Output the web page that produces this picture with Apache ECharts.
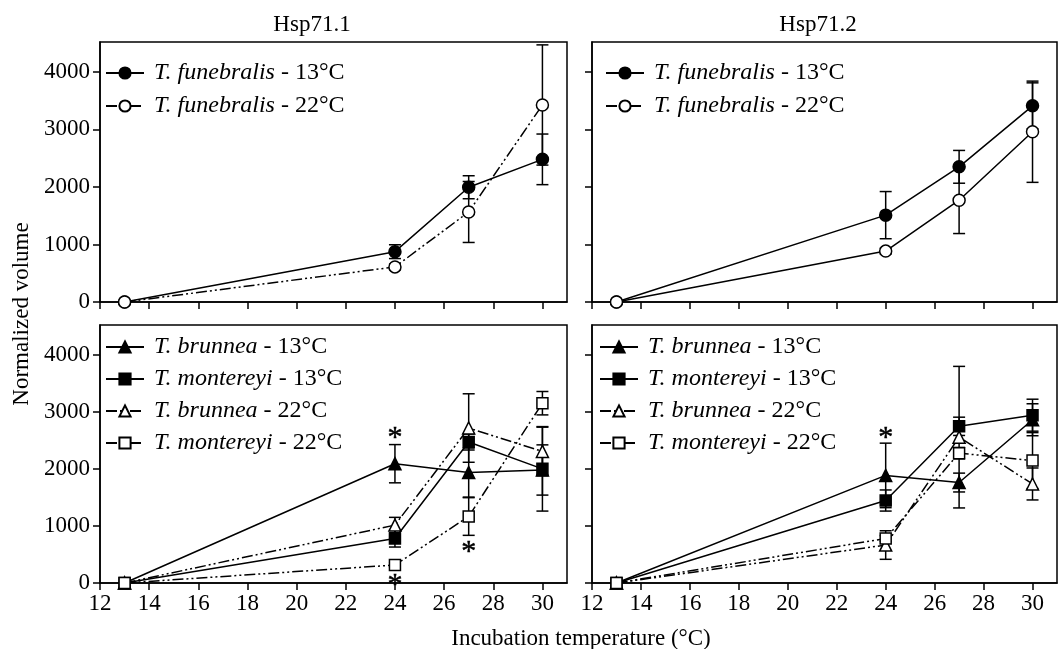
<!DOCTYPE html>
<html>
<head>
<meta charset="utf-8">
<script src="https://cdn.jsdelivr.net/npm/echarts@6/dist/echarts.min.js"></script>
<style>
  html, body { margin: 0; padding: 0; background: #fff; }
  #chart { width: 1061px; height: 649px; }
</style>
</head>
<body>
<div id="chart"></div>
<script>
// incubation temperatures (x)
var temps = [13, 24, 27, 30];
var xTicks = [12, 14, 16, 18, 20, 22, 24, 26, 28, 30];
var yTicks = [0, 1000, 2000, 3000, 4000];

// Hsp71.1, T. funebralis
var fun13H1 = [0, 875, 1995, 2480];
var fun13H1Err = [0, 120, 200, 440];
var fun22H1 = [0, 610, 1565, 3425];
var fun22H1Err = [0, 50, 530, 1045];

// Hsp71.2, T. funebralis
var fun13H2 = [0, 1510, 2350, 3410];
var fun13H2Err = [0, 410, 285, 400];
var fun22H2 = [0, 885, 1770, 2960];
var fun22H2Err = [0, 50, 580, 880];

// Hsp71.1, T. brunnea / T. montereyi
var bru13H1 = [0, 2090, 1935, 1980];
var bru13H1Err = [0, 335, 430, 440];
var mon13H1 = [0, 780, 2470, 2000];
var mon13H1Err = [0, 150, 140, 740];
var bru22H1 = [0, 1015, 2715, 2305];
var bru22H1Err = [0, 135, 600, 425];
var mon22H1 = [0, 315, 1165, 3150];
var mon22H1Err = [0, 40, 330, 205];

// Hsp71.2, T. brunnea / T. montereyi
var bru13H2 = [0, 1885, 1760, 2860];
var bru13H2Err = [0, 565, 165, 280];
var mon13H2 = [0, 1445, 2745, 2940];
var mon13H2Err = [0, 185, 160, 280];
var bru22H2 = [0, 665, 2555, 1735];
var bru22H2Err = [0, 250, 1240, 280];
var mon22H2 = [0, 780, 2275, 2145];
var mon22H2Err = [0, 50, 100, 490];

// significance asterisks [x, y]
var starsH1 = [[24, 2660], [24, 90], [27, 660]];
var starsH2 = [[24, 2665]];

var FONT = 'Liberation Serif';
var FS = 23;

function pairs(vals) {
    return temps.map(function (t, i) { return [t, vals[i]]; });
}

function errData(vals, errs) {
    return temps.map(function (t, i) { return [t, vals[i] - errs[i], vals[i] + errs[i]]; });
}

function renderErr(params, api) {
    var x = api.value(0), lo = api.value(1), hi = api.value(2);
    if (hi - lo <= 0) return;
    var p1 = api.coord([x, hi]);
    var p2 = api.coord([x, lo]);
    var w = 6;
    var st = { stroke: '#000', lineWidth: 1.5 };
    return {
        type: 'group',
        children: [
            { type: 'line', shape: { x1: p1[0], y1: p1[1], x2: p2[0], y2: p2[1] }, style: st },
            { type: 'line', shape: { x1: p1[0] - w, y1: p1[1], x2: p1[0] + w, y2: p1[1] }, style: st },
            { type: 'line', shape: { x1: p2[0] - w, y1: p2[1], x2: p2[0] + w, y2: p2[1] }, style: st }
        ]
    };
}

var dashDotDot = [11, 3, 2, 3, 2, 3];

function lineSeries(name, vals, idx, symbol, filled, dash) {
    return {
        name: name,
        type: 'line',
        xAxisIndex: idx,
        yAxisIndex: idx,
        data: pairs(vals),
        symbol: symbol,
        symbolSize: symbol == 'rect' ? 11 : 12,
        showAllSymbol: true,
        z: 3,
        lineStyle: { color: '#000', width: 1.5, type: dash || 'solid' },
        itemStyle: { color: filled ? '#000' : '#fff', borderColor: '#000', borderWidth: 1.5 },
        emphasis: { disabled: true },
        animation: false
    };
}

function errSeries(vals, errs, idx) {
    return {
        type: 'custom',
        xAxisIndex: idx,
        yAxisIndex: idx,
        data: errData(vals, errs),
        encode: { x: 0, y: [1, 2] },
        renderItem: renderErr,
        z: 1,
        silent: true,
        animation: false
    };
}

// asterisks drawn as text marks on a scatter layer
function starSeries(pts, idx) {
    return {
        type: 'scatter',
        xAxisIndex: idx,
        yAxisIndex: idx,
        data: pts,
        symbolSize: 0,
        itemStyle: { color: '#000', opacity: 1 },
        z: 4,
        silent: true,
        emphasis: { disabled: true },
        label: {
            show: true, position: 'inside', formatter: '*',
            fontFamily: FONT, fontSize: 30, color: '#000', opacity: 1, offset: [0, 7],
            textBorderColor: '#000', textBorderWidth: 0.5
        },
        animation: false
    };
}

var grids = [
    { left: 100, top: 42, width: 467, height: 260 },
    { left: 592, top: 42, width: 465, height: 260 },
    { left: 100, top: 325, width: 467, height: 258 },
    { left: 592, top: 325, width: 465, height: 258 }
].map(function (g) {
    g.show = true;
    g.borderColor = '#000';
    g.borderWidth = 1.5;
    return g;
});

var xAxes = [0, 1, 2, 3].map(function (i) {
    return {
        type: 'value', gridIndex: i, min: 12, max: 31,
        axisLine: { show: true, onZero: false, lineStyle: { color: '#000', width: 1.5 } },
        axisTick: { show: true, inside: false, length: 7, customValues: xTicks, lineStyle: { color: '#000', width: 1.5 } },
        axisLabel: { show: i >= 2, customValues: xTicks, margin: 9, color: '#000', fontFamily: FONT, fontSize: FS },
        splitLine: { show: false }
    };
});

var yAxes = [0, 1, 2, 3].map(function (i) {
    return {
        type: 'value', gridIndex: i, min: 0, max: 4520,
        axisLine: { show: true, lineStyle: { color: '#000', width: 1.5 } },
        axisTick: { show: true, inside: false, length: 7, customValues: yTicks, lineStyle: { color: '#000', width: 1.5 } },
        axisLabel: {
            show: i % 2 == 0, customValues: yTicks, margin: 10, color: '#000', fontFamily: FONT, fontSize: FS,
            formatter: function (v) { return String(v); }
        },
        splitLine: { show: false }
    };
});

var nF13 = 'T. funebralis - 13°C', nF22 = 'T. funebralis - 22°C';
var nB13 = 'T. brunnea - 13°C', nM13 = 'T. montereyi - 13°C';
var nB22 = 'T. brunnea - 22°C', nM22 = 'T. montereyi - 22°C';

function legendAt(left, top, names, gap) {
    return {
        left: left, top: top, orient: 'vertical', padding: 0,
        data: names,
        itemWidth: 38, itemHeight: 14, itemGap: gap,
        selectedMode: false,
        formatter: function (name) {
            var parts = name.split(' - ');
            return '{i|' + parts[0] + '} - ' + parts[1];
        },
        textStyle: {
            fontFamily: FONT, fontSize: 24, color: '#000', lineHeight: 24, padding: [0, 0, 0, 5],
            rich: { i: { fontFamily: FONT, fontSize: 24, fontStyle: 'italic', color: '#000' } }
        }
    };
}

var series = [
    errSeries(fun13H1, fun13H1Err, 0), errSeries(fun22H1, fun22H1Err, 0),
    lineSeries(nF13, fun13H1, 0, 'circle', true),
    lineSeries(nF22, fun22H1, 0, 'circle', false, dashDotDot),

    errSeries(fun13H2, fun13H2Err, 1), errSeries(fun22H2, fun22H2Err, 1),
    lineSeries(nF13, fun13H2, 1, 'circle', true),
    lineSeries(nF22, fun22H2, 1, 'circle', false),

    errSeries(bru13H1, bru13H1Err, 2), errSeries(mon13H1, mon13H1Err, 2),
    errSeries(bru22H1, bru22H1Err, 2), errSeries(mon22H1, mon22H1Err, 2),
    lineSeries(nB13, bru13H1, 2, 'triangle', true),
    lineSeries(nM13, mon13H1, 2, 'rect', true),
    lineSeries(nB22, bru22H1, 2, 'triangle', false, dashDotDot),
    lineSeries(nM22, mon22H1, 2, 'rect', false, dashDotDot),
    starSeries(starsH1, 2),

    errSeries(bru13H2, bru13H2Err, 3), errSeries(mon13H2, mon13H2Err, 3),
    errSeries(bru22H2, bru22H2Err, 3), errSeries(mon22H2, mon22H2Err, 3),
    lineSeries(nB13, bru13H2, 3, 'triangle', true),
    lineSeries(nM13, mon13H2, 3, 'rect', true),
    lineSeries(nB22, bru22H2, 3, 'triangle', false, dashDotDot),
    lineSeries(nM22, mon22H2, 3, 'rect', false, dashDotDot),
    starSeries(starsH2, 3)
];

var chart = echarts.init(document.getElementById('chart'), null, { renderer: 'canvas' });
chart.setOption({
    animation: false,
    backgroundColor: '#fff',
    title: [
        { text: 'Hsp71.1', left: 307, top: 8, textAlign: 'center', textStyle: { fontFamily: FONT, fontSize: FS, fontWeight: 'normal', color: '#000' } },
        { text: 'Hsp71.2', left: 813, top: 8, textAlign: 'center', textStyle: { fontFamily: FONT, fontSize: FS, fontWeight: 'normal', color: '#000' } },
        { text: 'Incubation temperature (°C)', left: 576, top: 622, textAlign: 'center', textStyle: { fontFamily: FONT, fontSize: FS, fontWeight: 'normal', color: '#000' } }
    ],
    graphic: [{
        type: 'text', x: 22, y: 314, rotation: Math.PI / 2,
        style: { text: 'Normalized volume', fontFamily: FONT, fontSize: FS, fill: '#000', textAlign: 'center', textVerticalAlign: 'middle' }
    }],
    legend: [
        legendAt(105, 61, [nF13, nF22], 9),
        legendAt(605, 61, [nF13, nF22], 9),
        legendAt(105, 335, [nB13, nM13, nB22, nM22], 8),
        legendAt(599, 335, [nB13, nM13, nB22, nM22], 8)
    ],
    grid: grids,
    xAxis: xAxes,
    yAxis: yAxes,
    series: series
});
</script>
</body>
</html>
